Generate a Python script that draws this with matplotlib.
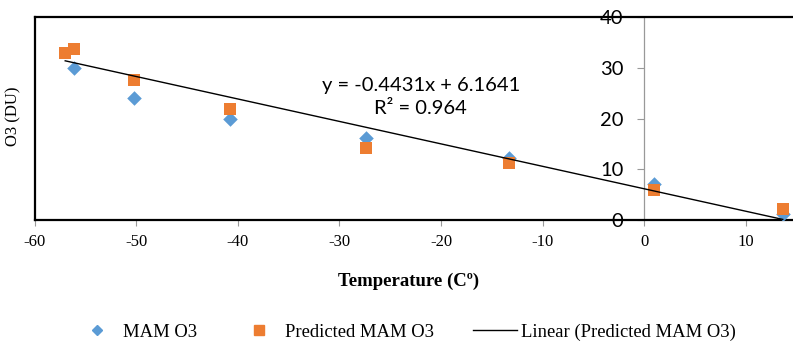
"""Recreation of the O3 vs temperature scatter with linear trendline."""
import matplotlib
matplotlib.use("Agg")
import matplotlib.pyplot as plt
import numpy as np
from matplotlib.lines import Line2D

# data
mam_t = [-56.1, -50.25, -40.8, -27.4, -13.3, 1.0, 13.65]
mam_o3 = [30.1, 24.0, 19.9, 16.2, 12.2, 7.1, 1.2]
pred_t = [-57.0, -56.1, -50.25, -40.8, -27.4, -13.3, 1.0, 13.65]
pred_o3 = [33.0, 33.7, 27.6, 22.0, 14.2, 11.3, 5.9, 2.2]
slope, intercept, r2 = -0.4431, 6.1641, 0.964
x_ticks = [-60, -50, -40, -30, -20, -10, 0, 10]
y_ticks = [0, 10, 20, 30, 40]

BLUE = "#5B9BD5"
ORANGE = "#ED7D31"
SERIF = "Liberation Serif"
SANS = "Lato"

fig = plt.figure(figsize=(7.93, 3.47), dpi=100)
ax = fig.add_axes([0.0438, 0.366, 0.9606, 0.584])

# y axis sits at x = 0; frame edges drawn black
# (spine positions first: set_position resets the ticks)
ax.spines["left"].set_position(("data", 0))
ax.spines["left"].set_color("#999999")
ax.spines["left"].set_linewidth(0.9)
ax.spines["right"].set_position(("axes", 0))
for side in ("right", "top", "bottom"):
    ax.spines[side].set_color("black")
    ax.spines[side].set_linewidth(1.6)

ax.scatter(mam_t, mam_o3, marker="D", s=55, color=BLUE, zorder=3, linewidths=0)
ax.scatter(pred_t, pred_o3, marker="s", s=85, color=ORANGE, zorder=4, linewidths=0)
xs = np.array([min(pred_t), max(pred_t)])
ax.plot(xs, slope * xs + intercept, color="black", lw=1.0, zorder=5)

ax.set_xlim(-60, 15)
ax.set_ylim(0, 40)
ax.set_xticks(x_ticks)
ax.set_yticks(y_ticks)
ax.set_xticklabels([str(t) for t in x_ticks], fontfamily=SERIF, fontsize=12)
ax.set_yticklabels([str(t) for t in y_ticks], fontfamily=SANS, fontsize=14.5)
ax.tick_params(axis="y", direction="out", length=5, color="#999999", pad=10)
ax.tick_params(axis="x", direction="out", length=4, color="#999999", pad=6)

ax.text(-62.1, 20.5, "O3 (DU)", rotation=90, fontfamily=SERIF, fontsize=12,
        ha="center", va="center", clip_on=False)

fig.text(409 / 793, 1 - 281 / 347, "Temperature (Cº)", fontfamily=SERIF,
         fontsize=13.5, fontweight="bold", ha="center", va="center")

ax.text(-22.0, 24.3, f"y = {slope}x + {intercept}\nR² = {r2}", fontfamily=SANS,
        fontsize=14.5, ha="center", va="center", multialignment="center",
        linespacing=1.45)

handles = [
    Line2D([], [], marker="D", color=BLUE, ls="none", markersize=5.5),
    Line2D([], [], marker="s", color=ORANGE, ls="none", markersize=7.5),
    Line2D([], [], color="black", lw=1.0),
]
labels = ["MAM O3", "Predicted MAM O3", "Linear (Predicted MAM O3)"]
fig.legend(handles, labels, loc="center", bbox_to_anchor=(0.5114, 1 - 332 / 347),
           ncol=3, frameon=False, prop={"family": SERIF, "size": 13.4},
           columnspacing=2.1, handlelength=2.37, handletextpad=0.22)

fig.savefig("out.png", dpi=100)
